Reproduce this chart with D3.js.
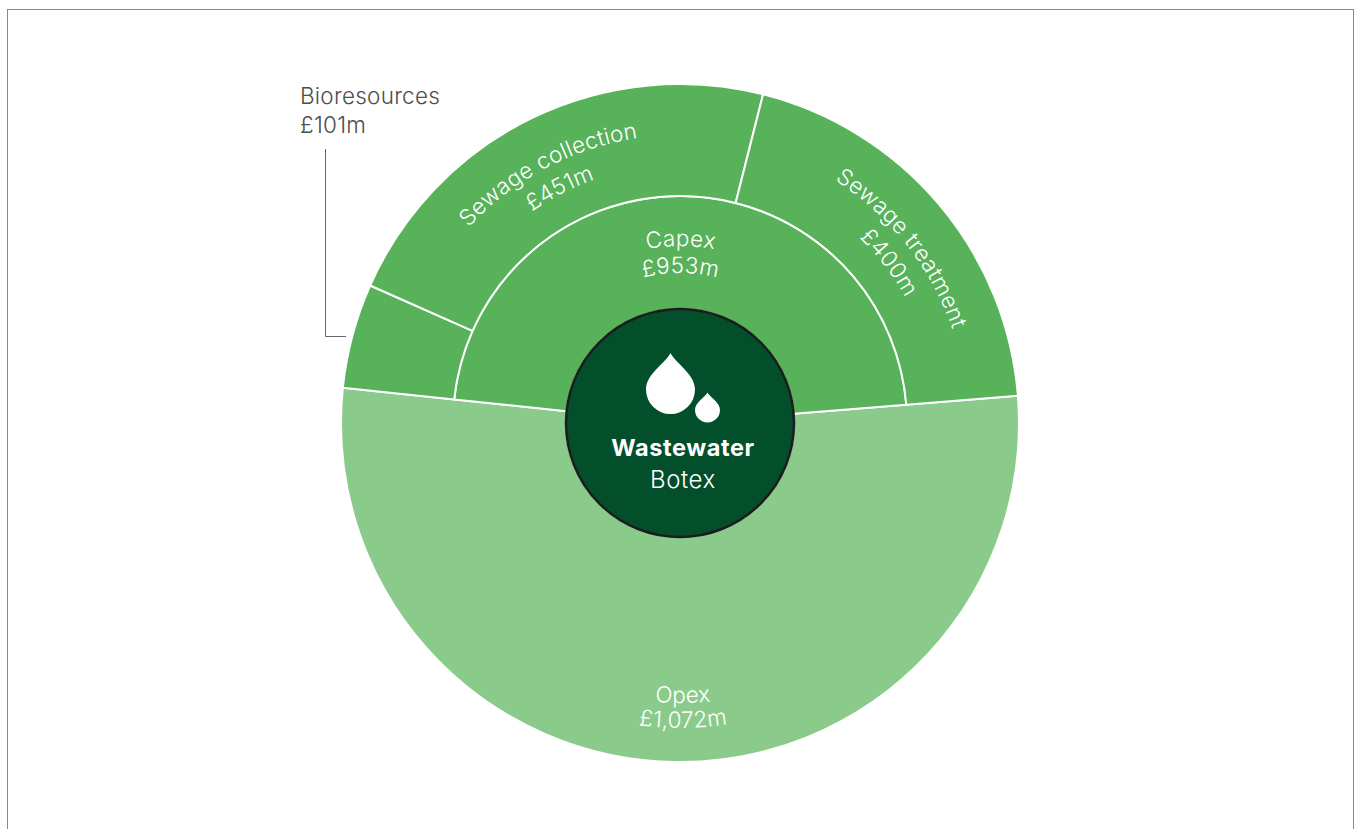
<!DOCTYPE html>
<html>
<head>
<meta charset="utf-8">
<script src="https://cdn.jsdelivr.net/npm/d3@7"></script>
<style>
  html, body { margin: 0; padding: 0; background: #fff; overflow: hidden; }
  svg { display: block; font-family: Inter, Lato, sans-serif; font-weight: 300; }
</style>
</head>
<body>
<svg id="chart" width="1357" height="829"></svg>
<script>
// Wastewater botex, split into capex and opex (£m)
const topLevelNames = ["Capex", "Opex"];
const topLevelValues = [953, 1072];
const capexNames = ["Bioresources", "Sewage collection", "Sewage treatment"];
const capexValues = [101, 451, 400];
const centreTitle = "Wastewater";
const centreSubtitle = "Botex";

const deg = Math.PI / 180;
const cx = 680, cy = 423;
const rCentre = 114, rMiddle = 227, rOuter = 339;
const firstAngle = -84.05 * deg;
const labelSize = 22.5, labelTracking = 0.25;

const GREEN = "#57b25a", LIGHT_GREEN = "#8aca8b", DARK_GREEN = "#044f2b";
const money = v => "£" + d3.format(",")(v) + "m";

const svg = d3.select("#chart");

// Panel outline; its bottom edge runs past the page
svg.append("rect")
  .attr("x", 7.5).attr("y", 9.5).attr("width", 1346).attr("height", 900)
  .attr("fill", "#fff").attr("stroke", "#2ea6dc").attr("stroke-width", 1);

const root = svg.append("g").attr("transform", `translate(${cx},${cy})`);

const topPie = d3.pie().sort(null).startAngle(firstAngle).endAngle(firstAngle + 2 * Math.PI);
const topArcs = topPie(topLevelValues);
const capexArc = topArcs[0], opexArc = topArcs[1];

const subArcs = d3.pie().sort(null)
  .startAngle(capexArc.startAngle).endAngle(capexArc.endAngle)(capexValues);

const arc = d3.arc();
const wedge = (d, r0, r1) => arc({ innerRadius: r0, outerRadius: r1, startAngle: d.startAngle, endAngle: d.endAngle });

const segments = [
  { d: opexArc, r0: rCentre, r1: rOuter, fill: LIGHT_GREEN },
  { d: capexArc, r0: rCentre, r1: rMiddle, fill: GREEN },
  ...subArcs.map(d => ({ d, r0: rMiddle, r1: rOuter, fill: GREEN }))
];

root.selectAll("path.segment").data(segments).join("path")
  .attr("class", "segment")
  .attr("d", s => wedge(s.d, s.r0, s.r1))
  .attr("fill", s => s.fill)
  .attr("stroke", "#fff")
  .attr("stroke-width", 2)
  .attr("stroke-linejoin", "round");

// Curved labels: angle is measured clockwise from twelve o'clock
const defs = svg.append("defs");
let pathCount = 0;
function curvedText(text, angleDeg, radius, reverse) {
  const a = (angleDeg - 90) * deg, span = 70 * deg;
  const p = d3.path();
  if (reverse) {
    p.moveTo(radius * Math.cos(a + span), radius * Math.sin(a + span));
    p.arc(0, 0, radius, a + span, a - span, true);
  } else {
    p.moveTo(radius * Math.cos(a - span), radius * Math.sin(a - span));
    p.arc(0, 0, radius, a - span, a + span, false);
  }
  const id = "label-path-" + (pathCount++);
  defs.append("path").attr("id", id).attr("d", p.toString());
  root.append("text")
    .attr("fill", "#fff").attr("font-size", labelSize)
    .attr("letter-spacing", labelTracking)
    .attr("text-anchor", "middle")
    .append("textPath")
    .attr("href", "#" + id).attr("startOffset", "50%")
    .text(text);
}

curvedText(capexNames[1], -27.8, 288);
curvedText(money(capexValues[1]), -27.1, 258);
curvedText(capexNames[2], 51.8, 288);
curvedText(money(capexValues[2]), 52.5, 258);
curvedText(topLevelNames[0], 0.2, 177);
curvedText(money(topLevelValues[0]), 0.2, 150);
curvedText(topLevelNames[1], 179.4, 280, true);
curvedText(money(topLevelValues[1]), 179.4, 305, true);

// Bioresources sits outside its slice, joined by a leader line
const outside = svg.append("g").attr("fill", "#4d4d4d")
  .attr("font-size", labelSize).attr("letter-spacing", labelTracking);
outside.append("text").attr("x", 300).attr("y", 104).text(capexNames[0]);
outside.append("text").attr("x", 300).attr("y", 133).text(money(capexValues[0]));
svg.append("path")
  .attr("d", d3.line()([[325.5, 149], [325.5, 336.5], [346, 336.5]]))
  .attr("fill", "none").attr("stroke", "#666").attr("stroke-width", 1);

// Centre disc with the two droplets
root.append("circle").attr("r", rCentre)
  .attr("fill", DARK_GREEN).attr("stroke", "#1d1d1b").attr("stroke-width", 2.5);

function droplet(x, y, r, tip) {
  const p = d3.path();
  p.moveTo(x, y - tip);
  p.bezierCurveTo(x + r * 0.22, y - tip + r * 0.42, x + r, y - r * 0.62, x + r, y);
  p.arc(x, y, r, 0, Math.PI, false);
  p.bezierCurveTo(x - r, y - r * 0.62, x - r * 0.22, y - tip + r * 0.42, x, y - tip);
  p.closePath();
  return p.toString();
}
svg.append("path").attr("d", droplet(670.5, 389.5, 24.5, 36.5)).attr("fill", "#fff");
svg.append("path").attr("d", droplet(707.5, 410, 12.5, 17.5)).attr("fill", "#fff");

svg.append("text").attr("x", 683).attr("y", 456)
  .attr("text-anchor", "middle").attr("fill", "#fff").attr("letter-spacing", 0.6)
  .attr("font-size", 23.5).attr("font-weight", 700).text(centreTitle);
svg.append("text").attr("x", 683).attr("y", 488)
  .attr("text-anchor", "middle").attr("fill", "#fff").attr("letter-spacing", 0.6)
  .attr("font-size", 24).text(centreSubtitle);
</script>
</body>
</html>
